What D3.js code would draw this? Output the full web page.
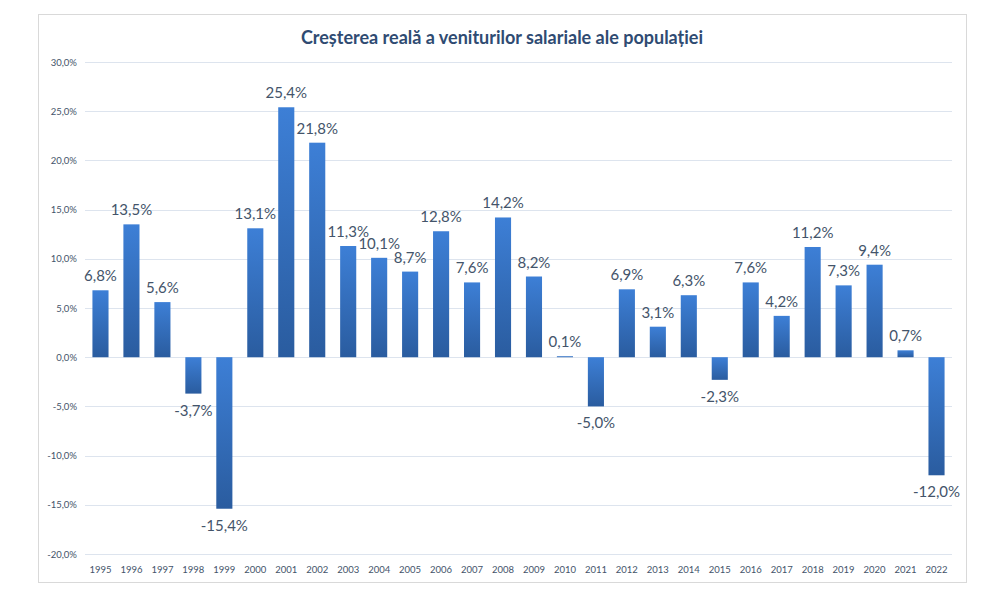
<!DOCTYPE html>
<html><head><meta charset="utf-8">
<script src="https://cdn.jsdelivr.net/npm/d3@7"></script>
<style>body{margin:0;background:#fff;}svg{display:block;}</style>
</head><body>
<script>
const years = ["1995","1996","1997","1998","1999","2000","2001","2002","2003","2004","2005","2006","2007","2008","2009","2010","2011","2012","2013","2014","2015","2016","2017","2018","2019","2020","2021","2022"];
const values = [6.8,13.5,5.6,-3.7,-15.4,13.1,25.4,21.8,11.3,10.1,8.7,12.8,7.6,14.2,8.2,0.1,-5.0,6.9,3.1,6.3,-2.3,7.6,4.2,11.2,7.3,9.4,0.7,-12.0];
const yTicks = [30,25,20,15,10,5,0,-5,-10,-15,-20];
const title = "Creșterea reală a veniturilor salariale ale populației";

const W=997,H=603;
const svg=d3.select("body").append("svg").attr("width",W).attr("height",H);
const defs=svg.append("defs");
const g=defs.append("linearGradient").attr("id","bg").attr("x1",0).attr("y1",0).attr("x2",0).attr("y2",1);
g.append("stop").attr("offset","0%").attr("stop-color","#3d7fd6");
g.append("stop").attr("offset","100%").attr("stop-color","#2a5c9f");

svg.append("rect").attr("x",38.5).attr("y",14.5).attr("width",928).attr("height",568)
  .attr("fill","#fff").attr("stroke","#d9d9d9");

svg.append("text").attr("x",502).attr("y",44).attr("text-anchor","middle")
  .attr("font-family","Lato, 'Open Sans', sans-serif").attr("font-weight","bold")
  .attr("font-size",18).attr("fill","#2f4b72").text(title);

const x=d3.scaleBand().domain(years).range([85,952]).paddingInner(0.48).paddingOuter(0.24);
const y=d3.scaleLinear().domain([-20,30]).range([554,62]);
const num=v=>d3.format(".1f")(v).replace("\u2212","-").replace(".",",")+"%";

svg.append("g").selectAll("line").data(yTicks).join("line")
  .attr("x1",85).attr("x2",952).attr("y1",d=>Math.round(y(d))+0.5).attr("y2",d=>Math.round(y(d))+0.5)
  .attr("stroke","#dde4ee").attr("stroke-width",1);

svg.append("g").selectAll("text").data(yTicks).join("text")
  .attr("x",77).attr("y",d=>y(d)+3.5).attr("text-anchor","end")
  .attr("font-family","Lato, sans-serif").attr("font-size",9.5).attr("fill","#44546a")
  .text(num);

svg.append("g").selectAll("rect").data(values).join("rect")
  .attr("x",(d,i)=>x(years[i])).attr("width",x.bandwidth())
  .attr("y",d=>y(Math.max(0,d))).attr("height",d=>Math.abs(y(d)-y(0)))
  .attr("fill","url(#bg)");

svg.append("g").selectAll("text").data(values).join("text")
  .attr("x",(d,i)=>x(years[i])+x.bandwidth()/2)
  .attr("y",d=>d>=0?y(d)-9:y(d)+22)
  .attr("text-anchor","middle").attr("font-family","Lato, sans-serif").attr("font-size",15)
  .attr("fill","#44546a").text(num);

svg.append("g").selectAll("text").data(years).join("text")
  .attr("x",d=>x(d)+x.bandwidth()/2).attr("y",573).attr("text-anchor","middle")
  .attr("font-family","Lato, sans-serif").attr("font-size",9.5).attr("fill","#44546a").text(d=>d);
</script>
</body></html>
